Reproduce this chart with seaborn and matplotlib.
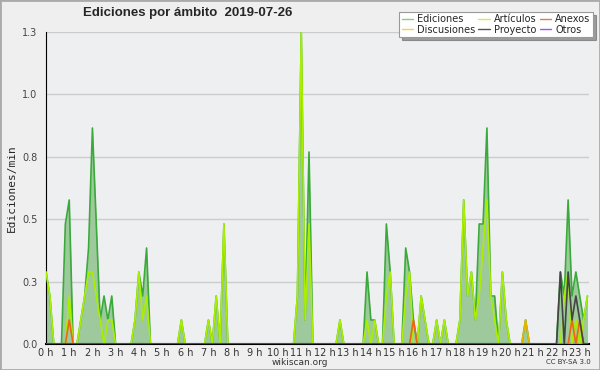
import matplotlib
matplotlib.use("Agg")
import matplotlib.pyplot as plt
import numpy as np
import pandas as pd
import seaborn as sns
from matplotlib.ticker import FixedLocator, MultipleLocator

sns.set_style("white")
plt.rcParams["font.family"] = ["DejaVu Sans"]

# edits per minute, one value every 10 minutes from 00:00 to 23:20
ediciones = [
    0.3, 0.2, 0, 0, 0, 0.5, 0.6, 0, 0, 0.1, 0.2, 0.4,
    0.9, 0.5, 0.1, 0.2, 0.1, 0.2, 0, 0, 0, 0, 0, 0.1,
    0.3, 0.2, 0.4, 0, 0, 0, 0, 0, 0, 0, 0, 0.1,
    0, 0, 0, 0, 0, 0, 0.1, 0, 0.2, 0, 0.5, 0,
    0, 0, 0, 0, 0, 0, 0, 0, 0, 0, 0, 0,
    0, 0, 0, 0, 0, 0.2, 1.3, 0.1, 0.8, 0, 0, 0,
    0, 0, 0, 0, 0.1, 0, 0, 0, 0, 0, 0, 0.3,
    0.1, 0.1, 0, 0, 0.5, 0.3, 0, 0, 0, 0.4, 0.3, 0.1,
    0, 0.2, 0.1, 0, 0, 0.1, 0, 0.1, 0, 0, 0, 0.1,
    0.6, 0.2, 0.3, 0.1, 0.5, 0.5, 0.9, 0.2, 0.2, 0, 0.3, 0.1,
    0, 0, 0, 0, 0.1, 0, 0, 0, 0, 0, 0, 0,
    0, 0.3, 0.2, 0.6, 0.2, 0.3, 0.2, 0.1, 0.2,
]
articulos = [
    0.3, 0.2, 0, 0, 0, 0, 0.2, 0, 0, 0.1, 0.2, 0.3,
    0.3, 0.2, 0.1, 0, 0.1, 0.1, 0, 0, 0, 0, 0, 0.1,
    0.3, 0.1, 0.2, 0, 0, 0, 0, 0, 0, 0, 0, 0.1,
    0, 0, 0, 0, 0, 0, 0.1, 0, 0.2, 0, 0.5, 0,
    0, 0, 0, 0, 0, 0, 0, 0, 0, 0, 0, 0,
    0, 0, 0, 0, 0, 0.2, 1.3, 0.1, 0.5, 0, 0, 0,
    0, 0, 0, 0, 0.1, 0, 0, 0, 0, 0, 0, 0.1,
    0, 0.1, 0, 0, 0.2, 0.3, 0, 0, 0, 0.2, 0.3, 0,
    0, 0.2, 0.1, 0, 0, 0.1, 0, 0.1, 0, 0, 0, 0.1,
    0.6, 0.2, 0.3, 0.1, 0.2, 0.4, 0.6, 0.2, 0.1, 0, 0.3, 0.1,
    0, 0, 0, 0, 0, 0, 0, 0, 0, 0, 0, 0,
    0, 0, 0.2, 0.3, 0, 0.1, 0, 0.1, 0.2,
]
anexos = [
    0, 0, 0, 0, 0, 0, 0.1, 0, 0, 0, 0, 0,
    0, 0, 0, 0, 0, 0, 0, 0, 0, 0, 0, 0,
    0, 0, 0, 0, 0, 0, 0, 0, 0, 0, 0, 0,
    0, 0, 0, 0, 0, 0, 0, 0, 0, 0, 0, 0,
    0, 0, 0, 0, 0, 0, 0, 0, 0, 0, 0, 0,
    0, 0, 0, 0, 0, 0, 0, 0, 0, 0, 0, 0,
    0, 0, 0, 0, 0, 0, 0, 0, 0, 0, 0, 0,
    0, 0, 0, 0, 0, 0, 0, 0, 0, 0, 0, 0.1,
    0, 0, 0, 0, 0, 0, 0, 0, 0, 0, 0, 0,
    0, 0, 0, 0, 0, 0, 0, 0, 0, 0, 0, 0,
    0, 0, 0, 0, 0, 0, 0, 0, 0, 0, 0, 0,
    0, 0, 0, 0, 0.1, 0, 0.1, 0, 0,
]
discusiones = [
    0, 0, 0, 0, 0, 0, 0, 0, 0, 0, 0, 0,
    0, 0, 0, 0, 0, 0, 0, 0, 0, 0, 0, 0,
    0, 0, 0, 0, 0, 0, 0, 0, 0, 0, 0, 0,
    0, 0, 0, 0, 0, 0, 0, 0, 0, 0, 0, 0,
    0, 0, 0, 0, 0, 0, 0, 0, 0, 0, 0, 0,
    0, 0, 0, 0, 0, 0, 0, 0, 0, 0, 0, 0,
    0, 0, 0, 0, 0, 0, 0, 0, 0, 0, 0, 0,
    0, 0, 0, 0, 0, 0, 0, 0, 0, 0, 0, 0,
    0, 0, 0, 0, 0, 0, 0, 0, 0, 0, 0, 0,
    0, 0, 0, 0, 0, 0, 0, 0, 0, 0, 0, 0,
    0, 0, 0, 0, 0.1, 0, 0, 0, 0, 0, 0, 0,
    0, 0, 0, 0, 0, 0, 0, 0, 0,
]
proyecto = [
    0, 0, 0, 0, 0, 0, 0, 0, 0, 0, 0, 0,
    0, 0, 0, 0, 0, 0, 0, 0, 0, 0, 0, 0,
    0, 0, 0, 0, 0, 0, 0, 0, 0, 0, 0, 0,
    0, 0, 0, 0, 0, 0, 0, 0, 0, 0, 0, 0,
    0, 0, 0, 0, 0, 0, 0, 0, 0, 0, 0, 0,
    0, 0, 0, 0, 0, 0, 0, 0, 0, 0, 0, 0,
    0, 0, 0, 0, 0, 0, 0, 0, 0, 0, 0, 0,
    0, 0, 0, 0, 0, 0, 0, 0, 0, 0, 0, 0,
    0, 0, 0, 0, 0, 0, 0, 0, 0, 0, 0, 0,
    0, 0, 0, 0, 0, 0, 0, 0, 0, 0, 0, 0,
    0, 0, 0, 0, 0, 0, 0, 0, 0, 0, 0, 0,
    0, 0.3, 0, 0.3, 0.1, 0.2, 0.1, 0, 0,
]

hour_labels = [f"{h} h" for h in range(24)]

df = pd.DataFrame({
    "hora": np.arange(len(ediciones)) / 6,
    "Ediciones": ediciones,
    "Artículos": articulos,
    "Anexos": anexos,
    "Discusiones": discusiones,
    "Proyecto": proyecto,
})

fig = plt.figure(figsize=(6, 3.7), dpi=100, facecolor="#efefef")
ax = fig.add_axes([0.0767, 0.0703, 0.905, 0.8432])
ax.set_facecolor("#eeeff1")

ax.fill_between(df["hora"], df["Ediciones"], color="#9dc99d", lw=0, zorder=2)
sns.lineplot(data=df, x="hora", y="Ediciones", color="#3aaa3a", lw=1.2, ax=ax, zorder=3)
sns.lineplot(data=df, x="hora", y="Artículos", color="#aaee00", lw=1.2, ax=ax, zorder=4)
sns.lineplot(data=df, x="hora", y="Discusiones", color="#e8b400", lw=1.2, ax=ax, zorder=5)
sns.lineplot(data=df, x="hora", y="Anexos", color="#ee6611", lw=1.2, ax=ax, zorder=6)
sns.lineplot(data=df, x="hora", y="Proyecto", color="#444444", lw=1.2, ax=ax, zorder=7)

ymax = max(ediciones)
ax.set_xlim(0, 23.4)
ax.set_ylim(0, ymax)
yt = np.linspace(0, ymax, 6)
ax.yaxis.set_major_locator(FixedLocator(yt))
ax.set_yticklabels([f"{v:.1f}" for v in yt], fontsize=7, color="#444444")
ax.yaxis.set_minor_locator(FixedLocator(np.linspace(0, ymax, 21)))
ax.xaxis.set_major_locator(FixedLocator(range(24)))
ax.set_xticklabels(hour_labels, fontsize=7, color="#333333")
ax.xaxis.set_minor_locator(MultipleLocator(1 / 6))
ax.tick_params(axis="both", which="both", direction="out", color="black")
ax.tick_params(axis="y", which="major", length=5, width=1, pad=1)
ax.tick_params(axis="y", which="minor", length=4, width=1)
ax.tick_params(axis="x", which="major", length=3, width=1, pad=0)
ax.tick_params(axis="x", which="minor", length=3, width=1)

ax.grid(axis="y", color="#cccccc", lw=1, zorder=1)
ax.set_axisbelow(True)
for side in ["top", "right"]:
    ax.spines[side].set_visible(False)
ax.spines["left"].set_color("black")
ax.spines["bottom"].set_color("black")
ax.spines["bottom"].set_linewidth(1.5)
ax.set_xlabel("")
ax.set_ylabel("Ediciones/min", fontsize=8, family="DejaVu Sans Mono", labelpad=4)

fig.text(0.312, 0.965, "Ediciones por ámbito  2019-07-26", ha="center", va="center",
         fontsize=9.5, fontweight="bold", family=["Liberation Sans", "DejaVu Sans"])
fig.text(0.5, 0.021, "wikiscan.org", ha="center", va="center", fontsize=6.5, color="#333333")
fig.text(0.985, 0.021, "CC BY-SA 3.0", ha="right", va="center", fontsize=5, color="#333333")

legend_names = ["Ediciones", "Discusiones", "Artículos", "Proyecto", "Anexos", "Otros"]
legend_colors = ["#88cc88", "#ffcc44", "#ccee55", "#555555", "#ee7744", "#9955ee"]
handles = [plt.Line2D([], [], color=c, lw=1) for c in legend_colors]
leg = fig.legend(handles, legend_names, ncol=3, loc="upper right", bbox_to_anchor=(0.988, 0.968),
                 borderaxespad=0, fontsize=7, frameon=True, fancybox=False, shadow=True,
                 handlelength=1.2, handletextpad=0.4, columnspacing=0.3, labelspacing=0.05,
                 borderpad=0.25)
leg.get_frame().set_edgecolor("#999999")
leg.get_frame().set_linewidth(0.8)

fig.patches.append(plt.Rectangle((0, 0), 1, 1, transform=fig.transFigure, fill=False,
                                 edgecolor="#aaaaaa", lw=2))
fig.savefig("out.png", dpi=100, facecolor=fig.get_facecolor())
